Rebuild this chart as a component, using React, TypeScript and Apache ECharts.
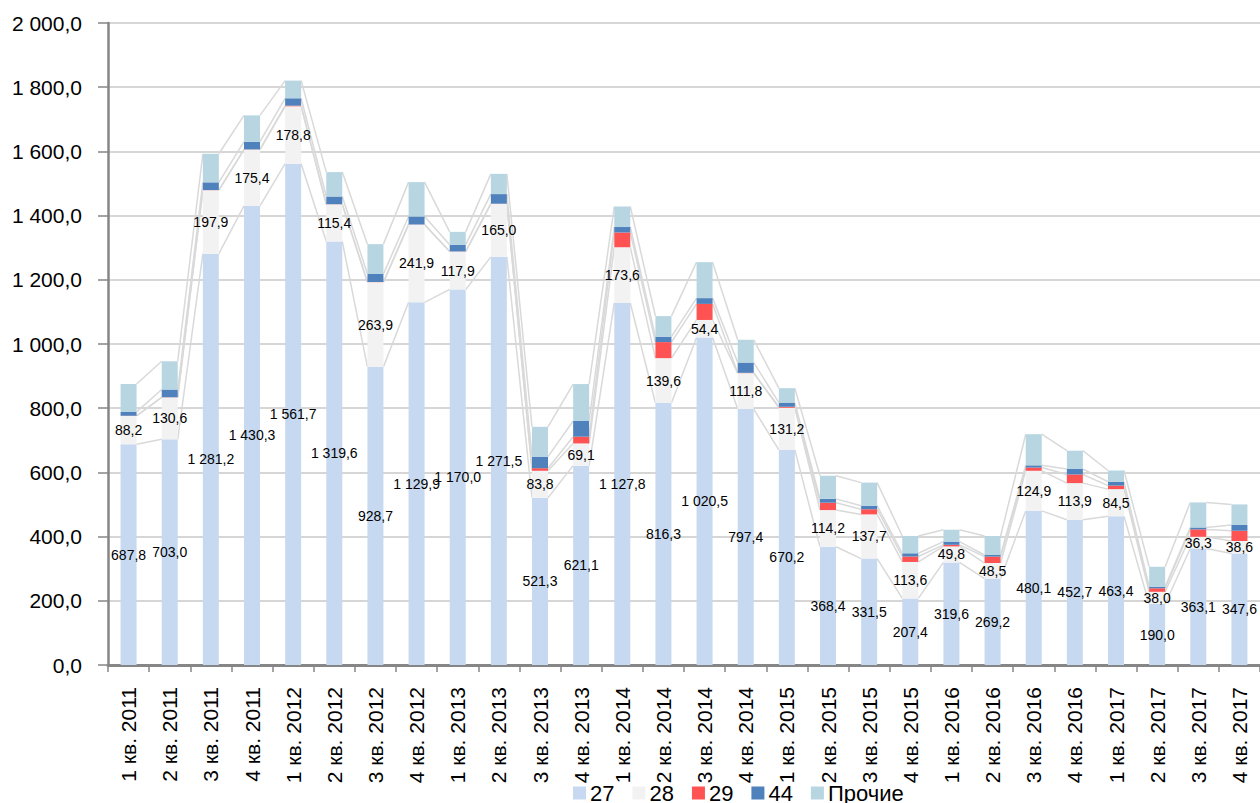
import React, { useEffect, useRef } from "react";
import * as echarts from "echarts";

const categories = [
  "1 кв. 2011", "2 кв. 2011", "3 кв. 2011", "4 кв. 2011",
  "1 кв. 2012", "2 кв. 2012", "3 кв. 2012", "4 кв. 2012",
  "1 кв. 2013", "2 кв. 2013", "3 кв. 2013", "4 кв. 2013",
  "1 кв. 2014", "2 кв. 2014", "3 кв. 2014", "4 кв. 2014",
  "1 кв. 2015", "2 кв. 2015", "3 кв. 2015", "4 кв. 2015",
  "1 кв. 2016", "2 кв. 2016", "3 кв. 2016", "4 кв. 2016",
  "1 кв. 2017", "2 кв. 2017", "3 кв. 2017", "4 кв. 2017",
];

const s27 = [687.8, 703.0, 1281.2, 1430.3, 1561.7, 1319.6, 928.7, 1129.9, 1170.0, 1271.5, 521.3, 621.1, 1127.8, 816.3, 1020.5, 797.4, 670.2, 368.4, 331.5, 207.4, 319.6, 269.2, 480.1, 452.7, 463.4, 190.0, 363.1, 347.6];
const s28 = [88.2, 130.6, 197.9, 175.4, 178.8, 115.4, 263.9, 241.9, 117.9, 165.0, 83.8, 69.1, 173.6, 139.6, 54.4, 111.8, 131.2, 114.2, 137.7, 113.6, 49.8, 48.5, 124.9, 113.9, 84.5, 38.0, 36.3, 38.6];
const s29 = [0.5, 0.5, 0.5, 0.5, 2, 0.5, 0.5, 0.5, 0.5, 0.5, 8, 21, 46, 50, 50, 1, 3, 23, 16, 17, 5, 20, 10, 27, 11, 11, 23, 32];
const s44 = [12, 24, 24, 24, 23, 24, 25, 25, 21, 30, 36, 49, 17, 17, 18, 32, 13, 12, 11, 10, 10, 5, 7, 17, 12, 5, 6, 18];
const sOther = [87, 88, 89, 82, 55, 76, 93, 107, 40, 63, 93, 115, 64, 64, 112, 71, 45, 72, 72, 54, 37, 59, 97, 57, 35, 62, 78, 64];

const seriesNames = ["27", "28", "29", "44", "Прочие"];
const seriesColors = ["#c6d9f1", "#f2f2f2", "#ff5353", "#4f81bd", "#b7d6e2"];

const FONT = "'Liberation Sans', Arial, sans-serif";

function fmt(v: number): string {
  const s = Math.abs(v).toFixed(1);
  const [ip, dp] = s.split(".");
  const withSp = ip.replace(/\B(?=(\d{3})+(?!\d))/g, " ");
  return (v < 0 ? "-" : "") + withSp + "," + dp;
}

export default function App() {
  const ref = useRef<HTMLDivElement>(null);

  useEffect(() => {
    if (!ref.current) return;
    const chart = echarts.init(ref.current, null, { renderer: "svg" });

    const all = [s27, s28, s29, s44, sOther];
    const cum: number[][] = [];
    for (let k = 0; k < all.length; k++) {
      cum.push(categories.map((_, i) => {
        let t = 0;
        for (let j = 0; j <= k; j++) t += all[j][i];
        return t;
      }));
    }
    const lineData: number[][] = [];
    for (let i = 0; i < categories.length - 1; i++) {
      const row = [i];
      for (let k = 0; k < 5; k++) row.push(cum[k][i]);
      for (let k = 0; k < 5; k++) row.push(cum[k][i + 1]);
      lineData.push(row);
    }

    const BAR_W = 16;

    const barSeries = all.map((d, k) => ({
      name: seriesNames[k],
      type: "bar",
      stack: "total",
      barWidth: BAR_W,
      data: d,
      itemStyle: { color: seriesColors[k] },
      z: 3,
      label: k < 2
        ? {
            show: true,
            position: "inside",
            formatter: (p: any) => fmt(p.value),
            color: "#000",
            fontSize: 14,
            fontFamily: FONT,
          }
        : { show: false },
    }));

    const option: any = {
      animation: false,
      backgroundColor: "#fff",
      textStyle: { fontFamily: FONT },
      grid: { left: 108, top: 23, width: 1154, height: 642, containLabel: false },
      legend: {
        data: seriesNames,
        left: 573,
        top: 782,
        itemWidth: 13,
        itemHeight: 13,
        itemGap: 18,
        icon: "rect",
        padding: 0,
        textStyle: { fontSize: 22, color: "#000", fontFamily: FONT, padding: [0, 0, 0, -1] },
      },
      xAxis: {
        type: "category",
        data: categories,
        boundaryGap: true,
        axisLine: { lineStyle: { color: "#868686", width: 3 } },
        axisTick: { show: true, length: 7, interval: 0, lineStyle: { color: "#868686", width: 1.5 } },
        axisLabel: { rotate: 90, interval: 0, margin: 22, fontSize: 21, color: "#000", fontFamily: FONT },
        splitLine: { show: false },
      },
      yAxis: {
        type: "value",
        min: 0,
        max: 2000,
        interval: 200,
        axisLine: { show: true, lineStyle: { color: "#868686", width: 2.5 } },
        axisTick: { show: true, length: 10, lineStyle: { color: "#868686", width: 1.5 } },
        axisLabel: { margin: 26, fontSize: 21, color: "#000", fontFamily: FONT, formatter: (v: number) => fmt(v) },
        splitLine: { show: true, lineStyle: { color: "#c8c8c8", width: 1.5 } },
      },
      series: [
        ...barSeries,
        {
          type: "custom",
          name: "lines",
          data: lineData,
          encode: { x: 0, y: [1, 2, 3, 4, 5, 6, 7, 8, 9, 10] },
          z: 2,
          silent: true,
          renderItem: (params: any, api: any) => {
            const i = api.value(0);
            const cx0 = api.coord([i, 0])[0];
            const cx1 = api.coord([i + 1, 0])[0];
            const children: any[] = [];
            for (let k = 0; k < 5; k++) {
              const y0 = api.coord([i, api.value(1 + k)])[1];
              const y1 = api.coord([i + 1, api.value(6 + k)])[1];
              children.push({
                type: "line",
                shape: { x1: cx0 + BAR_W / 2, y1: y0, x2: cx1 - BAR_W / 2, y2: y1 },
                style: { stroke: "#d9d9d9", lineWidth: 1.5 },
              });
            }
            return { type: "group", children };
          },
        },
      ],
    };
    chart.setOption(option);
    return () => chart.dispose();
  }, []);

  return (
    <div
      ref={ref}
      style={{ position: "fixed", left: 0, top: 0, width: 1260, height: 803, background: "#fff" }}
    />
  );
}
